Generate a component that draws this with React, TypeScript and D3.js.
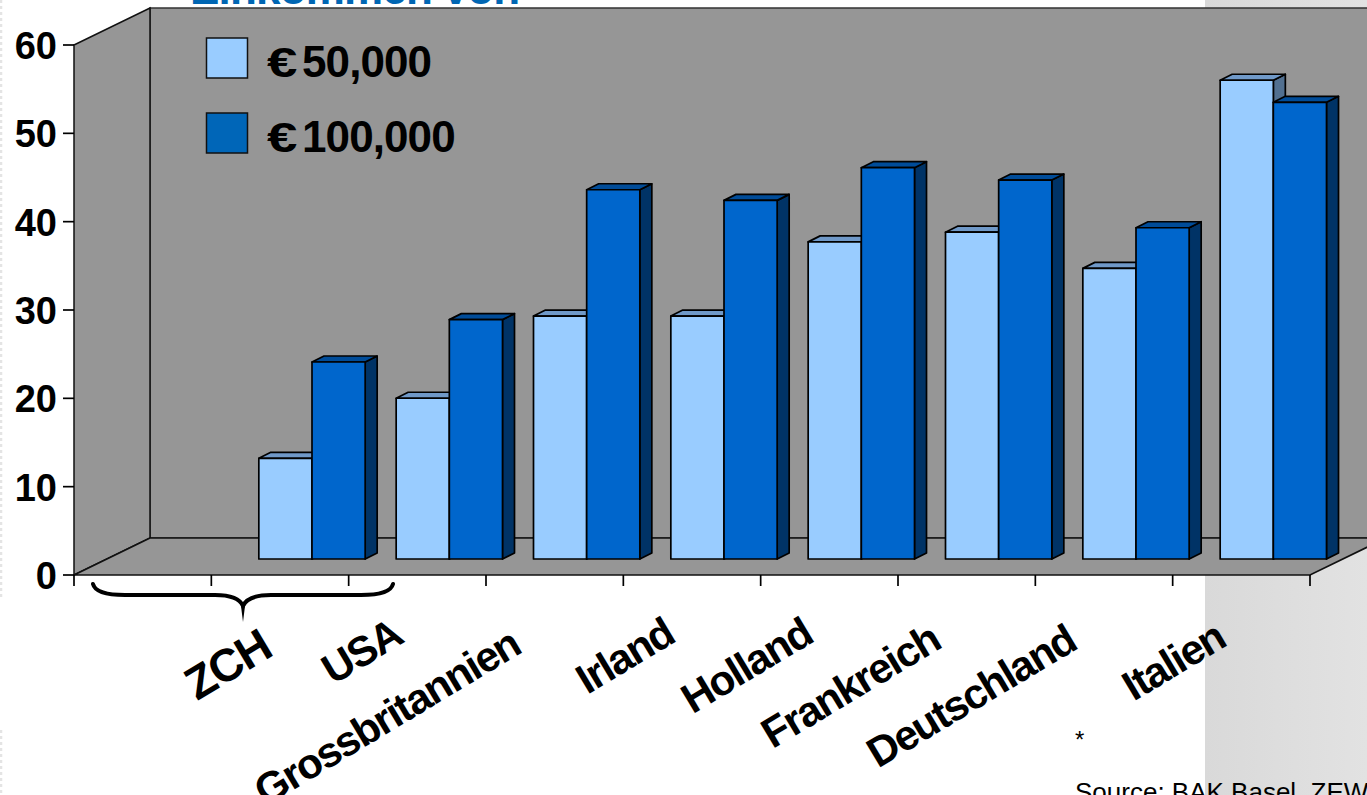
import React from "react";
import * as d3 from "d3";

const categories = ["", "ZCH", "USA", "Grossbritannien", "Irland", "Holland", "Frankreich", "Deutschland", "Italien"];
const series50k = [null, 11.4, 18.2, 27.5, 27.5, 35.9, 37.0, 32.9, 54.2];
const series100k = [null, 22.3, 27.1, 41.8, 40.6, 44.3, 42.9, 37.5, 51.7];
const yTicks = [0, 10, 20, 30, 40, 50, 60];
const seriesNames = ["50,000", "100,000"];

const labelEnds: [number, number][] = [
  [0, 0], [274, 655], [405, 642], [523, 652], [677, 641], [815, 641], [943, 647], [1079, 648], [1228, 645],
];

const W = 1367, H = 795;
const x0 = 74, x1 = 1310, y0 = 575, y60 = 45;
const depthX = 76, depthY = 37;
const barShiftX = 32, barShiftY = 16;
const barDX = 12, barDY = 6;
const LIGHT = { front: "#99ccff", top: "#7099c8", side: "#527090" };
const DARK = { front: "#0066cc", top: "#004c99", side: "#003366" };
const FONT = "'Liberation Sans', Arial, sans-serif";

export default function App() {
  const band = d3.scaleBand<string>().domain(categories).range([x0, x1]);
  const y = d3.scaleLinear().domain([0, 60]).range([y0, y60]);
  const inner = d3.scaleBand<string>().domain(["a", "b"]).range([15.5, band.step() - 15.5]);
  const pts = (p: number[][]) => p.map((q) => q.join(",")).join(" ");
  const tickXs = d3.range(categories.length + 1).map((i) => x0 + i * band.step());

  const bar = (v: number | null, cat: string, key: "a" | "b", c: typeof LIGHT) => {
    if (v == null) return null;
    const l = (band(cat) as number) + (inner(key) as number) + barShiftX;
    const r = l + inner.bandwidth();
    const t = y(v) - barShiftY;
    const b = y0 - barShiftY;
    return (
      <g key={cat + key} stroke="#000" strokeWidth={1.7} strokeLinejoin="round">
        <polygon points={pts([[r, t], [r + barDX, t - barDY], [r + barDX, b - barDY], [r, b]])} fill={c.side} />
        <polygon points={pts([[l, t], [l + barDX, t - barDY], [r + barDX, t - barDY], [r, t]])} fill={c.top} />
        <rect x={l} y={t} width={r - l} height={b - t} fill={c.front} />
      </g>
    );
  };

  return (
    <svg width={W} height={H} viewBox={`0 0 ${W} ${H}`} style={{ position: "absolute", left: 0, top: 0, display: "block", fontFamily: FONT }}>
      <defs>
        <linearGradient id="band" x1="0" x2="1" y1="0" y2="0">
          <stop offset="0" stopColor="#d9d9d9" />
          <stop offset="1" stopColor="#e2e2e2" />
        </linearGradient>
      </defs>
      <rect width={W} height={H} fill="#fff" />
      <rect x={1205} y={0} width={W - 1205} height={H} fill="url(#band)" />
      <line x1={1} x2={1} y1={0} y2={600} stroke="#e4e4e4" strokeWidth={2.5} strokeDasharray="3 3" />
      <line x1={1} x2={1} y1={730} y2={795} stroke="#e4e4e4" strokeWidth={2.5} strokeDasharray="3 3" />

      <text x={190} y={4} fontSize={44} fontWeight={700} letterSpacing={-0.8} fill="#0066b3">Einkommen von</text>

      <polygon points={pts([[x0 + depthX, y60 - depthY], [W + 20, y60 - depthY], [W + 20, y0 - depthY], [x0 + depthX, y0 - depthY]])} fill="#969696" stroke="#333" strokeWidth={1.5} />
      <polygon points={pts([[x0, y60], [x0 + depthX, y60 - depthY], [x0 + depthX, y0 - depthY], [x0, y0]])} fill="#969696" stroke="#111" strokeWidth={1.5} />
      <polygon points={pts([[x0, y0], [x0 + depthX, y0 - depthY], [x1 + depthX, y0 - depthY], [x1, y0]])} fill="#969696" stroke="#111" strokeWidth={1.7} />

      {yTicks.map((t) => (
        <g key={t}>
          <line x1={x0 - 11} x2={x0} y1={y(t)} y2={y(t)} stroke="#000" strokeWidth={1.7} />
          <text x={57} y={y(t) + 14} fontSize={38} fontWeight={700} textAnchor="end" fill="#000">{t}</text>
        </g>
      ))}
      {tickXs.map((t) => (
        <line key={t} x1={t} x2={t} y1={y0} y2={y0 + 11} stroke="#000" strokeWidth={1.7} />
      ))}

      {categories.map((c, i) => bar(series50k[i], c, "a", LIGHT))}
      {categories.map((c, i) => bar(series100k[i], c, "b", DARK))}

      {categories.map((c, i) =>
        c ? (
          <text key={c} transform={`translate(${labelEnds[i][0]},${labelEnds[i][1]}) rotate(-31)`} textAnchor="end" fontSize={c === "ZCH" ? 46 : 42} letterSpacing={-1.6} fontWeight={700} fill="#000">{c}</text>
        ) : null
      )}

      <path d="M93,584 C95,592 108,595 125,595 L215,595 C232,595 240,599 243,606 C246,599 254,595 271,595 L361,595 C378,595 391,592 393,584" fill="none" stroke="#000" strokeWidth={4} strokeLinecap="round" />
      <path d="M240.5,602 L243,622 L245.5,602 Z" fill="#000" />

      {[LIGHT, DARK].map((c, i) => (
        <g key={i}>
          <rect x={206.5} y={38 + i * 75} width={41} height={40} fill={c === LIGHT ? c.front : "#0066b8"} stroke="#111" strokeWidth={1.5} />
          <text transform={`translate(267,${77 + i * 75}) scale(1.3,1)`} fontSize={42} fontWeight={700} fill="#000">€</text>
          <text x={302} y={77 + i * 75} fontSize={44} letterSpacing={-0.9} fontWeight={700} fill="#000">{seriesNames[i]}</text>
        </g>
      ))}

      <text x={1075} y={748} fontSize={24} fill="#000">*</text>
      <text x={1075} y={801} fontSize={26} fill="#000">Source: BAK Basel, ZEW</text>
    </svg>
  );
}
